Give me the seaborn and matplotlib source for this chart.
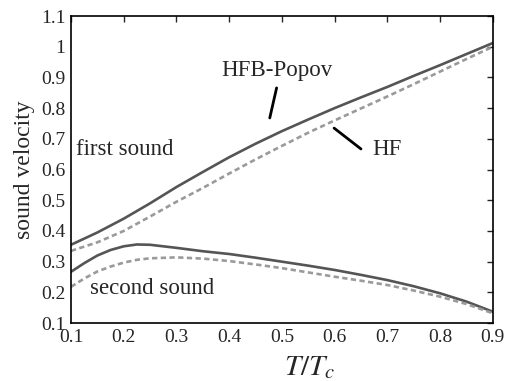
import numpy as np
import matplotlib
matplotlib.use("Agg")
import matplotlib.pyplot as plt
import seaborn as sns

t1 = [0.1, 0.15, 0.2, 0.25, 0.3, 0.35, 0.4, 0.45, 0.5, 0.55, 0.6, 0.65, 0.7, 0.75, 0.8, 0.85, 0.9]
first_popov = [0.355, 0.395, 0.44, 0.49, 0.543, 0.592, 0.64, 0.684, 0.725, 0.763, 0.80, 0.835, 0.869, 0.905, 0.94, 0.976, 1.012]
first_hf = [0.335, 0.363, 0.40, 0.447, 0.495, 0.54, 0.587, 0.633, 0.677, 0.72, 0.76, 0.799, 0.838, 0.878, 0.919, 0.96, 1.0]

t2 = [0.1, 0.125, 0.15, 0.175, 0.2, 0.225, 0.25, 0.3, 0.35, 0.4, 0.45, 0.5, 0.55, 0.6, 0.65, 0.7, 0.75, 0.8, 0.85, 0.9]
second_popov = [0.267, 0.295, 0.32, 0.338, 0.35, 0.356, 0.355, 0.345, 0.334, 0.325, 0.313, 0.30, 0.287, 0.273, 0.257, 0.24, 0.22, 0.197, 0.17, 0.137]
second_hf = [0.218, 0.245, 0.268, 0.284, 0.297, 0.306, 0.311, 0.314, 0.31, 0.302, 0.291, 0.279, 0.265, 0.251, 0.238, 0.224, 0.206, 0.186, 0.162, 0.132]

xticks = [0.1, 0.2, 0.3, 0.4, 0.5, 0.6, 0.7, 0.8, 0.9]
xtick_labels = ['0.1', '0.2', '0.3', '0.4', '0.5', '0.6', '0.7', '0.8', '0.9']
yticks = [0.1, 0.2, 0.3, 0.4, 0.5, 0.6, 0.7, 0.8, 0.9, 1.0, 1.1]
ytick_labels = ['0.1', '0.2', '0.3', '0.4', '0.5', '0.6', '0.7', '0.8', '0.9', '1', '1.1']

sns.set_style("white")
plt.rcParams['font.family'] = ['Liberation Serif', 'DejaVu Serif']
plt.rcParams['mathtext.fontset'] = 'stix'

fig, ax = plt.subplots(figsize=(5.07, 3.81), dpi=100)
fig.subplots_adjust(left=0.14, right=0.972, top=0.958, bottom=0.152)

solid_c = '#555555'
dash_c = '#9a9a9a'
sns.lineplot(x=t1, y=first_popov, ax=ax, color=solid_c, linewidth=1.9)
sns.lineplot(x=t1, y=first_hf, ax=ax, color=dash_c, linewidth=1.9).lines[-1].set_dashes((2, 1.3))
sns.lineplot(x=t2, y=second_popov, ax=ax, color=solid_c, linewidth=1.9)
sns.lineplot(x=t2, y=second_hf, ax=ax, color=dash_c, linewidth=1.9).lines[-1].set_dashes((2, 1.3))

ax.set_xlim(0.1, 0.9)
ax.set_ylim(0.1, 1.1)
ax.set_xticks(xticks)
ax.set_xticklabels(xtick_labels)
ax.set_yticks(yticks)
ax.set_yticklabels(ytick_labels)
ax.tick_params(direction='in', length=4, width=1, top=True, right=True, labelsize=14, pad=4)
for s in ax.spines.values():
    s.set_color('black')
    s.set_linewidth(1.2)

ax.set_xlabel(r'$T/T_c$', fontsize=21)
ax.xaxis.set_label_coords(0.566, -0.1)
ax.set_ylabel('sound velocity', fontsize=17)

ax.text(0.11, 0.665, 'first sound', fontsize=16.5, va='center')
ax.text(0.136, 0.214, 'second sound', fontsize=16.5, va='center')
ax.text(0.386, 0.924, 'HFB-Popov', fontsize=16.5, va='center')
ax.text(0.672, 0.664, 'HF', fontsize=16.5, va='center')
ax.plot([0.477, 0.490], [0.768, 0.866], color='black', lw=2)
ax.plot([0.599, 0.650], [0.735, 0.667], color='black', lw=2)

fig.savefig('out.png', dpi=100)
